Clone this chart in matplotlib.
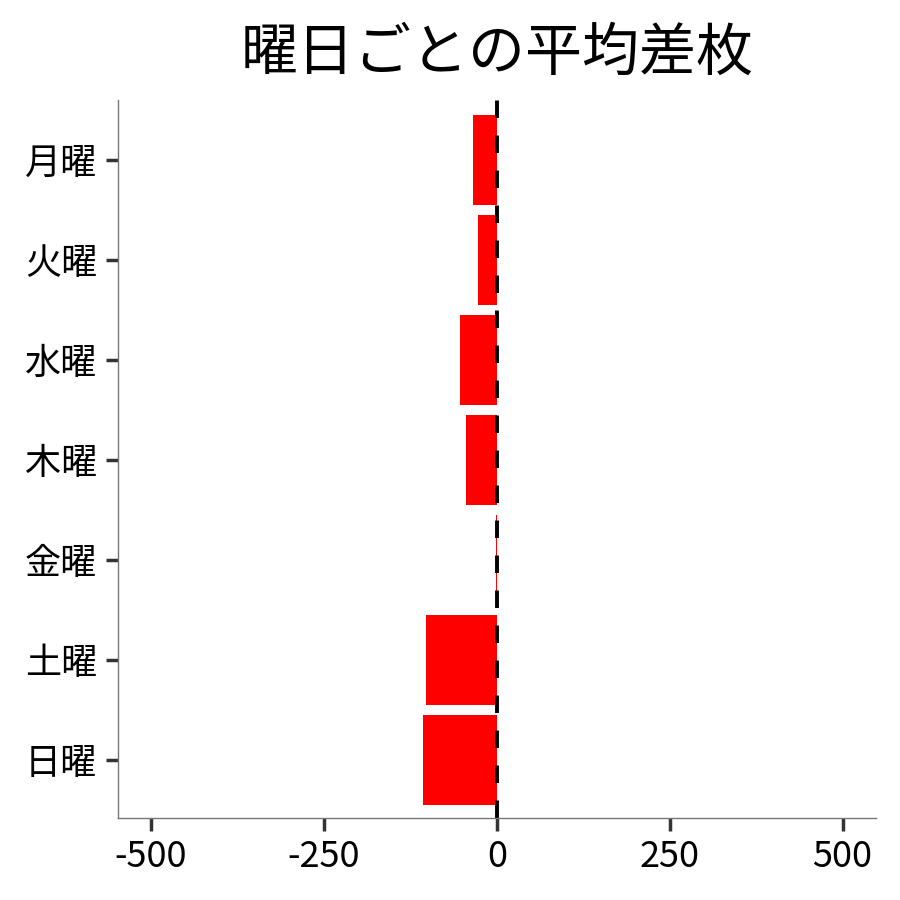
import matplotlib
matplotlib.use('Agg')
import matplotlib.pyplot as plt

plt.rcParams['font.family'] = ['Noto Sans CJK JP', 'DejaVu Sans']

days = ['月曜', '火曜', '水曜', '木曜', '金曜', '土曜', '日曜']
avg_diff = [-34, -27, -53, -45, -1, -103, -107]
xticks = [-500, -250, 0, 250, 500]

fig = plt.figure(figsize=(9, 9), dpi=100)
ax = fig.add_axes([0.131, 0.091, 0.842, 0.798])

ypos = list(range(len(days)))
ax.barh(ypos, avg_diff, height=0.9, color='#ff0000')
ax.axvline(0, color='black', lw=2.8, linestyle=(0, (4.5, 4.5)))

ax.set_yticks(ypos)
ax.set_yticklabels(days)
ax.set_ylim(6.58, -0.6)
ax.set_xticks(xticks)
ax.set_xticklabels([str(v) for v in xticks])
ax.set_xlim(-548, 548)

for side in ['top', 'right']:
    ax.spines[side].set_visible(False)
for side in ['left', 'bottom']:
    ax.spines[side].set_color('#777777')
    ax.spines[side].set_linewidth(1.0)

ax.tick_params(axis='both', length=9, width=2.5, color='#333333', labelsize=26, pad=6)

ax.set_title('曜日ごとの平均差枚', fontsize=41, pad=22)

fig.savefig('out.png', dpi=100)
